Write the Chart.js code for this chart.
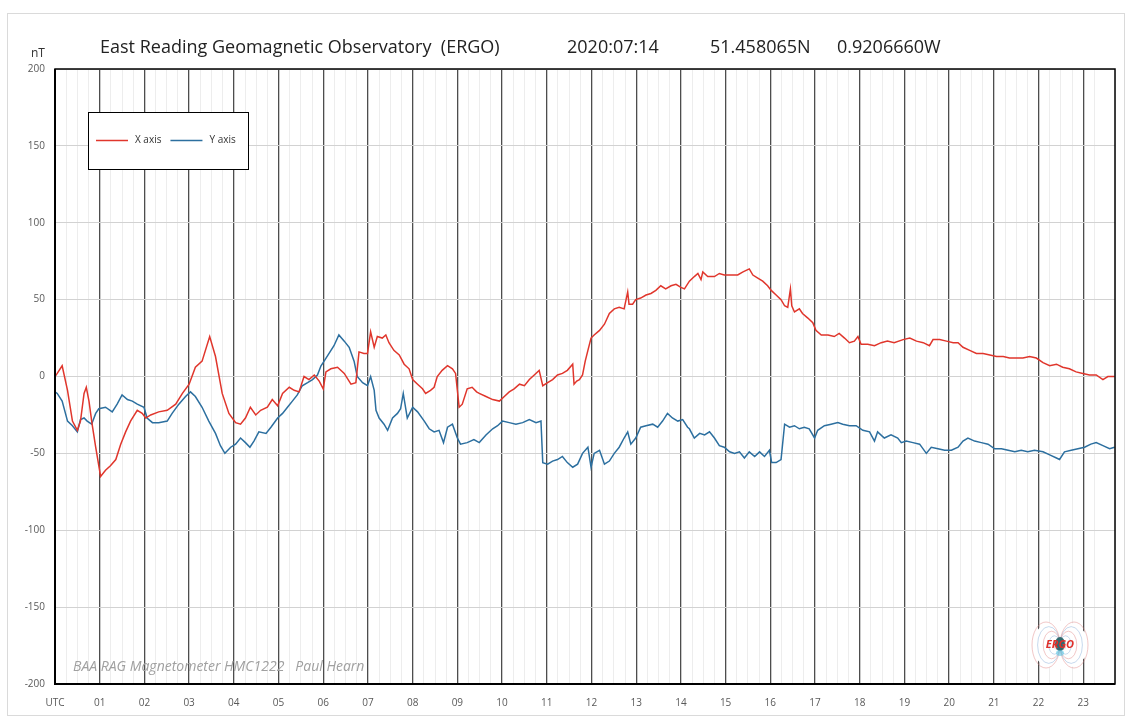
<!DOCTYPE html>
<html>
<head>
<meta charset="utf-8">
<script src="https://cdn.jsdelivr.net/npm/chart.js@4.4.1/dist/chart.umd.min.js"></script>
<style>
  html, body { margin: 0; padding: 0; background: #fff; }
</style>
</head>
<body>
<canvas id="chart" width="1128" height="718"></canvas>
<script>
// hour tick labels along the bottom
const hourLabels = ['UTC','01','02','03','04','05','06','07','08','09','10','11',
  '12','13','14','15','16','17','18','19','20','21','22','23'];

// X axis component (red), hours UTC -> nT
const xAxisHours = [0.00,0.05,0.16,0.28,0.39,0.50,0.57,0.65,0.70,0.76,0.83,0.91,1.02,1.13,1.24,1.36,1.47,1.58,1.69,1.84,
  1.95,2.03,2.14,2.32,2.51,2.70,2.85,3.00,3.14,3.29,3.46,3.59,3.74,3.89,4.04,4.15,4.26,4.37,4.49,4.60,
  4.75,4.86,4.98,5.09,5.24,5.35,5.46,5.57,5.68,5.80,5.91,6.00,6.06,6.17,6.32,6.47,6.62,6.73,6.80,6.91,
  6.99,7.06,7.14,7.21,7.32,7.40,7.47,7.58,7.70,7.81,7.92,8.00,8.11,8.22,8.29,8.40,8.48,8.55,8.66,8.78,
  8.89,8.96,9.04,9.11,9.22,9.33,9.43,9.49,9.64,9.79,9.94,10.05,10.16,10.27,10.39,10.50,10.61,10.72,10.83,10.91,
  11.02,11.13,11.24,11.35,11.46,11.58,11.61,11.67,11.73,11.80,11.86,11.92,11.99,12.06,12.18,12.29,12.40,12.51,12.62,12.73,
  12.81,12.84,12.92,12.99,13.10,13.22,13.33,13.44,13.55,13.66,13.78,13.89,14.00,14.08,14.19,14.30,14.38,14.45,14.49,14.60,
  14.75,14.86,14.97,15.12,15.27,15.39,15.46,15.53,15.61,15.72,15.83,15.94,16.02,16.13,16.24,16.32,16.39,16.45,16.48,16.54,
  16.65,16.72,16.84,16.95,17.02,17.14,17.29,17.43,17.54,17.66,17.77,17.88,17.96,18.03,18.18,18.33,18.48,18.62,18.77,18.97,
  19.12,19.27,19.42,19.56,19.64,19.79,19.94,20.09,20.20,20.31,20.46,20.61,20.76,20.91,21.06,21.21,21.35,21.50,21.65,21.80,
  21.95,22.10,22.25,22.40,22.54,22.69,22.84,22.99,23.14,23.29,23.44,23.55,23.70];
const xAxisNT = [0,2,7,-9,-29,-35,-29,-11,-7,-16,-31,-46,-65,-61,-58,-54,-44,-36,-29,-22,
  -24,-27,-25,-23,-22,-18,-11,-5,6,10,26,13,-11,-24,-30,-31,-27,-20,-25,-22,
  -20,-15,-19,-11,-7,-9,-10,0,-2,1,-3,-8,3,5,6,2,-5,-4,16,15,
  15,29,19,26,25,27,22,17,14,8,5,-2,-5,-8,-11,-9,-7,0,4,7,
  5,2,-20,-18,-8,-7,-10,-11,-13,-15,-16,-13,-10,-8,-5,-6,-2,1,4,-6,
  -4,-2,1,2,4,8,-5,-3,-2,1,10,17,25,27,30,34,41,44,45,44,
  55,47,47,50,51,53,54,56,59,57,59,60,58,57,62,65,67,63,68,65,
  65,67,66,66,66,68,69,70,66,64,62,59,56,53,50,46,45,57,46,42,
  44,41,38,35,30,27,27,26,28,25,22,23,26,21,21,20,22,23,22,24,
  25,23,22,20,24,24,23,22,22,19,17,15,15,14,13,13,12,12,12,13,
  12,9,7,8,6,5,3,2,1,1,-2,0,0];

// Y axis component (blue), hours UTC -> nT
const yAxisHours = [0.00,0.05,0.16,0.28,0.39,0.50,0.57,0.65,0.72,0.82,0.91,0.98,1.13,1.28,1.39,1.50,1.62,1.73,1.84,1.99,
  2.06,2.18,2.32,2.51,2.62,2.77,2.92,3.03,3.14,3.29,3.44,3.59,3.70,3.80,3.93,4.04,4.15,4.26,4.36,4.45,
  4.56,4.72,4.83,4.98,5.09,5.20,5.31,5.42,5.53,5.65,5.76,5.87,5.95,6.02,6.13,6.24,6.35,6.47,6.58,6.69,
  6.76,6.88,6.99,7.06,7.14,7.18,7.25,7.36,7.44,7.55,7.66,7.73,7.79,7.88,8.00,8.11,8.26,8.37,8.48,8.59,
  8.69,8.78,8.89,9.00,9.07,9.22,9.37,9.49,9.64,9.79,9.90,10.01,10.16,10.31,10.46,10.61,10.76,10.87,10.91,11.02,
  11.13,11.24,11.35,11.46,11.58,11.69,11.80,11.92,11.99,12.06,12.18,12.29,12.40,12.51,12.62,12.73,12.81,12.88,12.99,13.10,
  13.22,13.37,13.48,13.59,13.70,13.81,13.93,14.04,14.15,14.19,14.30,14.42,14.53,14.64,14.75,14.86,14.97,15.09,15.20,15.31,
  15.42,15.53,15.65,15.76,15.87,15.98,16.03,16.13,16.24,16.32,16.43,16.54,16.65,16.76,16.87,16.99,17.06,17.21,17.36,17.51,
  17.62,17.77,17.92,18.07,18.22,18.33,18.40,18.55,18.70,18.85,18.93,19.04,19.19,19.34,19.49,19.60,19.75,19.90,20.05,20.20,
  20.31,20.42,20.57,20.72,20.87,21.02,21.17,21.32,21.47,21.61,21.76,21.91,22.10,22.25,22.40,22.47,22.58,22.73,22.88,23.03,
  23.17,23.29,23.44,23.59,23.70];
const yAxisNT = [-10,-11,-16,-29,-32,-36,-28,-27,-29,-31,-24,-21,-20,-23,-18,-12,-15,-16,-18,-20,
  -27,-30,-30,-29,-24,-18,-13,-10,-13,-20,-29,-37,-45,-50,-46,-44,-40,-43,-46,-42,
  -36,-37,-33,-27,-24,-20,-16,-12,-6,-4,-2,1,7,10,15,20,27,23,19,10,
  0,-4,-6,0,-9,-22,-27,-31,-35,-27,-24,-21,-11,-27,-20,-23,-29,-34,-36,-35,
  -43,-33,-31,-40,-44,-43,-41,-43,-38,-34,-32,-29,-30,-31,-30,-28,-30,-29,-56,-57,
  -55,-54,-52,-56,-59,-57,-50,-46,-59,-50,-48,-57,-55,-50,-46,-40,-36,-44,-40,-33,
  -32,-31,-33,-29,-24,-27,-29,-28,-33,-34,-40,-37,-38,-36,-40,-45,-46,-49,-50,-49,
  -53,-49,-52,-49,-52,-48,-56,-56,-54,-31,-33,-32,-34,-33,-34,-40,-35,-32,-31,-30,
  -31,-32,-32,-35,-36,-42,-36,-40,-38,-40,-43,-42,-43,-44,-50,-46,-47,-48,-48,-46,
  -42,-40,-42,-43,-44,-47,-47,-48,-49,-48,-49,-48,-49,-51,-53,-54,-49,-48,-47,-46,
  -44,-43,-45,-47,-46];

const toPoints = (hrs, vals) => hrs.map((h, i) => ({x: h, y: vals[i]}));

// draw text squeezed to a given width (the original uses Calibri)
function fitText(ctx, text, x, y, w) {
  const m = ctx.measureText(text).width;
  ctx.save();
  ctx.translate(x, y);
  if (m > w) ctx.scale(w / m, 1);
  ctx.fillText(text, 0, 0);
  ctx.restore();
}

const decor = {
  id: 'decor',
  beforeDraw(chart) {
    const ctx = chart.ctx;
    ctx.save();
    ctx.fillStyle = '#fff';
    ctx.fillRect(0, 0, chart.width, chart.height);
    ctx.strokeStyle = '#dadada';
    ctx.lineWidth = 1;
    ctx.strokeRect(7.5, 13.5, 1117, 702);
    ctx.restore();
  },
  afterDatasetsDraw(chart) {
    const ctx = chart.ctx;
    const a = chart.chartArea;
    ctx.save();

    // watermark
    ctx.font = 'italic 14px "Open Sans"';
    ctx.fillStyle = '#a0a0a0';
    ctx.textBaseline = 'middle';
    fitText(ctx, 'BAA RAG Magnetometer HMC1222   Paul Hearn', 73, 667, 331);

    // ERGO logo
    const cx = 1060, cy = 645;
    ctx.fillStyle = '#fff';
    ctx.beginPath(); ctx.ellipse(cx, cy, 29, 24, 0, 0, Math.PI * 2); ctx.fill();
    for (let k = 1; k <= 5; k++) {
      ctx.strokeStyle = k % 2 ? 'rgba(225,130,130,0.45)' : 'rgba(130,170,215,0.45)';
      ctx.lineWidth = 1;
      ctx.beginPath(); ctx.ellipse(cx - k * 2.8, cy, k * 2.8, k * 4.6, 0, 0, Math.PI * 2); ctx.stroke();
      ctx.beginPath(); ctx.ellipse(cx + k * 2.8, cy, k * 2.8, k * 4.6, 0, 0, Math.PI * 2); ctx.stroke();
    }
    ctx.fillStyle = '#2f6a70';
    ctx.beginPath(); ctx.ellipse(cx, cy - 1, 5, 7, 0, 0, Math.PI * 2); ctx.fill();
    ctx.fillStyle = 'rgba(90,200,230,0.6)';
    ctx.beginPath(); ctx.ellipse(cx, cy + 8, 4, 3, 0, 0, Math.PI * 2); ctx.fill();
    ctx.fillStyle = '#e0302a';
    ctx.font = 'italic bold 11px "Open Sans"';
    ctx.textAlign = 'center';
    ctx.fillText('ERGO', cx, cy);
    ctx.textAlign = 'left';

    // plot frame
    ctx.strokeStyle = '#000';
    ctx.lineWidth = 1.5;
    ctx.strokeRect(a.left, a.top, a.right - a.left, a.bottom - a.top);
    ctx.lineWidth = 2;
    ctx.beginPath();
    ctx.moveTo(a.left, a.top); ctx.lineTo(a.left, a.bottom); ctx.lineTo(a.right, a.bottom);
    ctx.stroke();

    // legend box
    ctx.fillStyle = '#fff';
    ctx.fillRect(88, 112, 160, 57);
    ctx.strokeStyle = '#000';
    ctx.lineWidth = 1;
    ctx.strokeRect(88.5, 112.5, 160, 57);
    ctx.font = '10px "Open Sans"';
    ctx.fillStyle = '#333';
    let lx = 96;
    chart.data.datasets.forEach(ds => {
      ctx.strokeStyle = ds.borderColor;
      ctx.lineWidth = 1.5;
      ctx.beginPath(); ctx.moveTo(lx, 140.5); ctx.lineTo(lx + 32, 140.5); ctx.stroke();
      ctx.fillText(ds.label, lx + 39, 140);
      lx += 39 + ctx.measureText(ds.label).width + 9;
    });
    ctx.restore();
  },
  afterDraw(chart) {
    const ctx = chart.ctx;
    ctx.save();
    ctx.fillStyle = '#222';
    ctx.textBaseline = 'alphabetic';
    ctx.font = '18px "Open Sans"';
    fitText(ctx, 'East Reading Geomagnetic Observatory  (ERGO)', 100, 53, 418);
    fitText(ctx, '2020:07:14', 567, 53, 98);
    fitText(ctx, '51.458065N', 710, 53, 105);
    fitText(ctx, '0.9206660W', 837, 53, 111);
    ctx.font = '12px "Open Sans"';
    ctx.fillStyle = '#333';
    ctx.fillText('nT', 31, 57);
    ctx.restore();
  }
};

new Chart(document.getElementById('chart'), {
  type: 'line',
  data: {
    datasets: [
      {
        label: 'X axis',
        data: toPoints(xAxisHours, xAxisNT),
        borderColor: '#e0362c',
        borderWidth: 1.5,
        pointRadius: 0,
        tension: 0
      },
      {
        label: 'Y axis',
        data: toPoints(yAxisHours, yAxisNT),
        borderColor: '#2c6f9f',
        borderWidth: 1.5,
        pointRadius: 0,
        tension: 0
      }
    ]
  },
  options: {
    responsive: false,
    animation: false,
    devicePixelRatio: 1,
    layout: { padding: { left: 8, top: 69, right: 11, bottom: 4 } },
    plugins: { legend: { display: false }, tooltip: { enabled: false } },
    scales: {
      x: {
        type: 'linear',
        min: 0,
        max: 23.71,
        afterFit: s => { s.height = 30; },
        border: { display: false },
        grid: {
          drawTicks: false,
          color: c => (c.tick && Number.isInteger(c.tick.value)) ? '#4d4d4d' : '#ededed',
          lineWidth: c => (c.tick && Number.isInteger(c.tick.value)) ? 1.3 : 1
        },
        ticks: {
          stepSize: 0.25,
          autoSkip: false,
          maxRotation: 0,
          padding: 13,
          color: '#595959',
          font: { family: 'Open Sans', size: 10 },
          callback: v => Number.isInteger(v) ? hourLabels[v] : ''
        }
      },
      y: {
        min: -200,
        max: 200,
        afterFit: s => { s.width = 47; },
        border: { display: false },
        grid: { drawTicks: false, color: '#d2d2d2', lineWidth: 1 },
        ticks: {
          stepSize: 50,
          padding: 10,
          color: '#595959',
          font: { family: 'Open Sans', size: 10 }
        }
      }
    }
  },
  plugins: [decor]
});
</script>
</body>
</html>
